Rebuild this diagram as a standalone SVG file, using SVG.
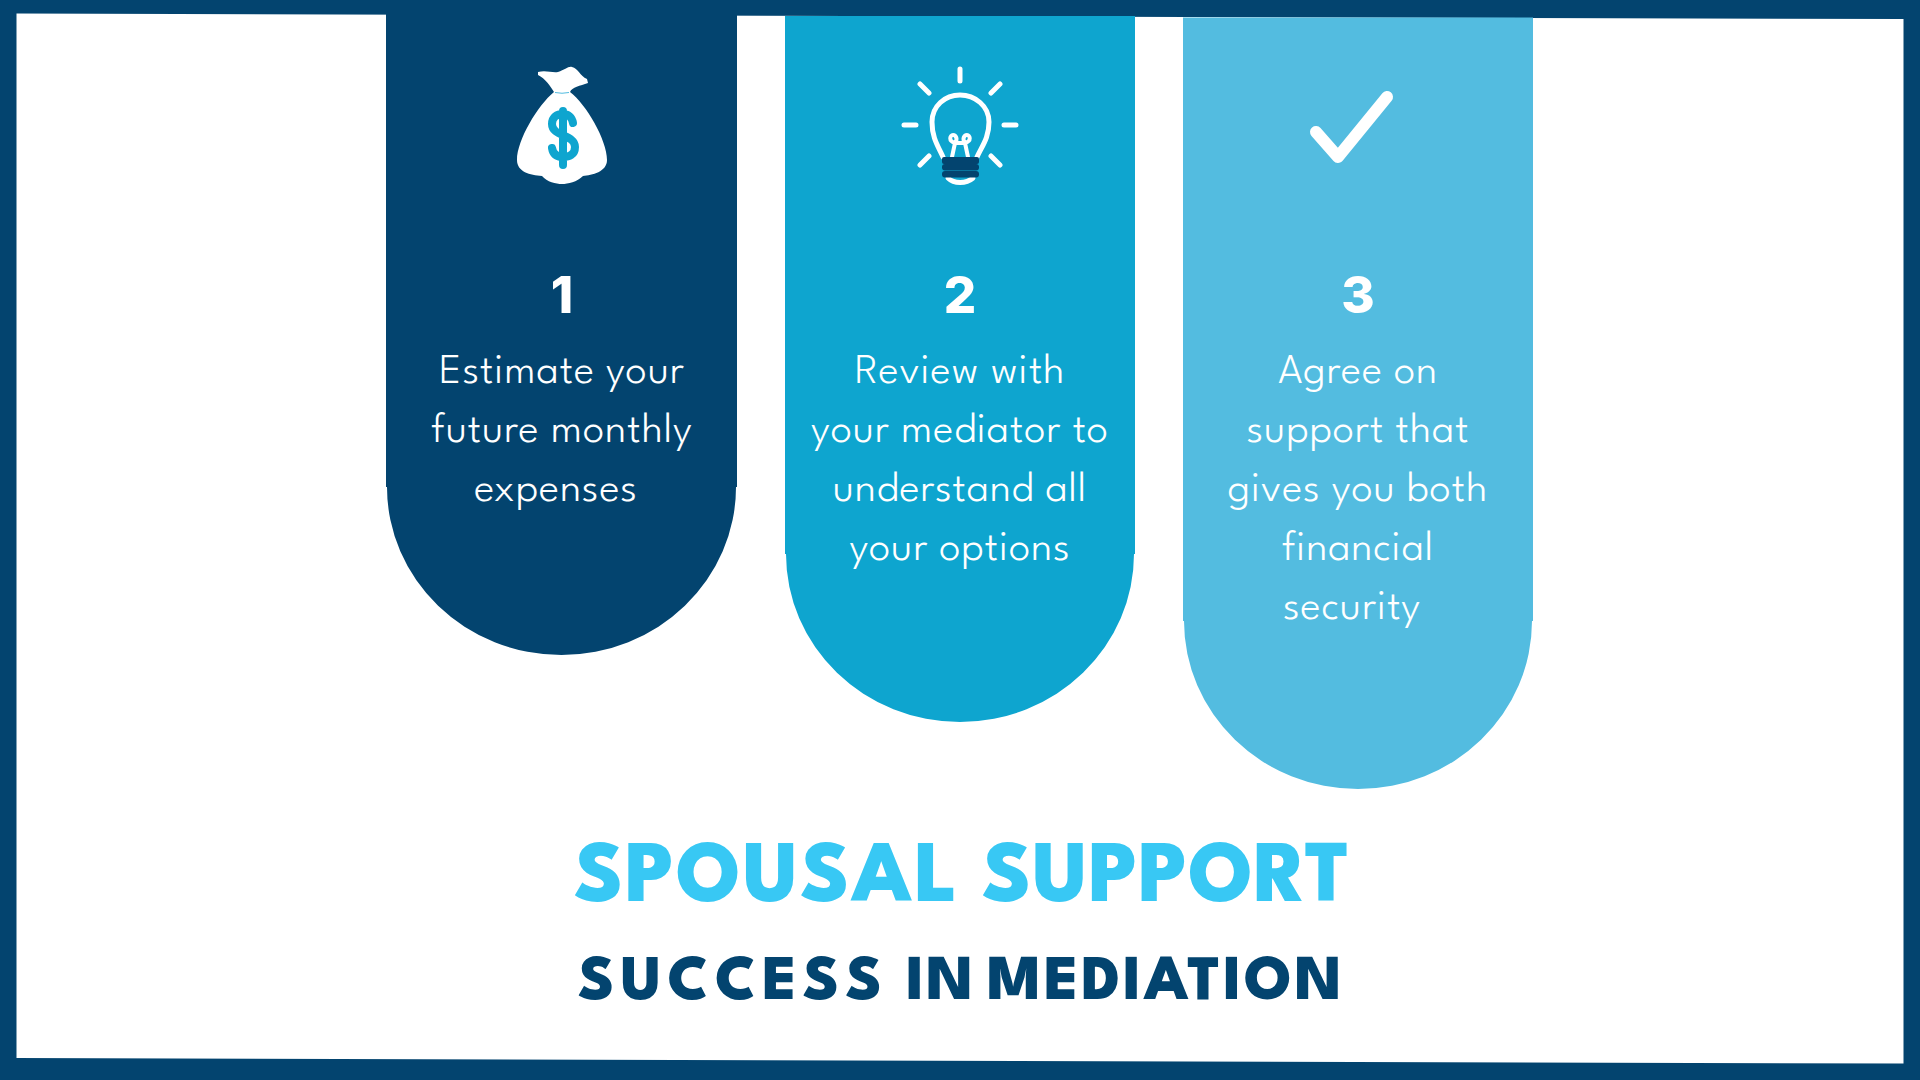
<svg xmlns="http://www.w3.org/2000/svg" width="1920" height="1080" viewBox="0 0 1920 1080">
<style>
.b{font-family:"League Spartan","Jost","Lato","Liberation Sans",sans-serif;font-size:43px;font-weight:340;fill:#fff;text-anchor:middle;letter-spacing:.8px}
.n{font-family:"Inter","Liberation Sans",sans-serif;font-size:51px;font-weight:800;fill:#fff;text-anchor:middle}
.t{font-family:"League Spartan","Poppins","Inter","Liberation Sans",sans-serif;font-weight:760}
.t1{font-size:87px;fill:#38c8f4}
.t2{font-size:64px;fill:#03446f}
.w{fill:none;stroke:#fff;stroke-linecap:round;stroke-width:5;stroke-linejoin:round}
</style>
<rect width="1920" height="1080" fill="#03446f"/>
<polygon points="16.5,13.5 1903.5,19 1903.5,1063.5 16.5,1058" fill="#fff"/>
<g id="node-1">
<path d="M386,14H737V487H736A174.500,168 0 0 1 387,487H386Z" fill="#03446f"/>
<g id="icon-money">
<path d="M538,72C546,70 552,73 558,72C565,70 568,66 572,67C578,68 580,76 587,79L588,83C580,86 572,87 570,92C586,104 607,140 607,160C607,172 592,175 583,176C577,182 568,184 562,184C556,184 547,182 542,176C530,175 517,172 517,160C517,140 538,105 554,92C551,87 545,78 538,75Z" fill="#fff"/>
<path d="M555,92.500Q562,94 569,92.500" fill="none" stroke="#53bce0" stroke-width="1"/>
<path d="M573,123C572,117 568,114 563,114C557,114 552,117 552,124C552,137 575,134 575,147C575,155 569,157 563,157C557,157 553,154 552,148M563,111V165" fill="none" stroke="#0ea5cf" stroke-width="8" stroke-linecap="round"/>
</g>
<text class="n" x="562" y="313">1</text>
<text class="b" x="562" y="383">Estimate your</text>
<text class="b" x="562" y="442">future monthly</text>
<text class="b" x="556" y="501">expenses</text>
</g>
<g id="node-2">
<path d="M785,16H1135V554H1134A174,168 0 0 1 786,554H785Z" fill="#0ea5cf"/>
<g id="icon-bulb">
<path class="w" d="M960,69V81M920,84L929,93M1000,84L991,93M904,125H916M1004,125H1016M920,165L929,156M1000,165L991,156"/>
<path class="w" d="M943,157C938,146 932,138 932,122C932,106 945,95 960,95C975,95 989,106 989,122C989,138 982,146 977,157"/>
<path class="w" style="stroke-width:4" d="M952,157L955,143C948,141 950,135 953,135C956,135 958,139 955,143H965C962,139 964,135 967,135C970,135 972,141 965,143L968,157"/>
<path class="w" d="M948,178C954,184 966,184 973,178"/>
<rect x="942" y="157" width="37" height="7" rx="2" fill="#03446f"/>
<rect x="942" y="164" width="37" height="6.500" rx="3" fill="#03446f"/>
<rect x="942" y="171" width="37" height="6.500" rx="3" fill="#03446f"/>
</g>
<text class="n" x="960" y="313">2</text>
<text class="b" x="960" y="383">Review with</text>
<text class="b" x="960" y="442">your mediator to</text>
<text class="b" x="960" y="501">understand all</text>
<text class="b" x="960" y="560">your options</text>
</g>
<g id="node-3">
<path d="M1183,17.500H1533V621H1532A174,168 0 0 1 1184,621H1183Z" fill="#53bce0"/>
<path id="icon-check" d="M1316,132L1338,157L1387,97" fill="none" stroke="#fff" stroke-width="12" stroke-linecap="round" stroke-linejoin="round"/>
<text class="n" x="1358" y="313">3</text>
<text class="b" x="1358" y="383">Agree on</text>
<text class="b" x="1358" y="442">support that</text>
<text class="b" x="1358" y="501">gives you both</text>
<text class="b" x="1358" y="560">financial</text>
<text class="b" x="1352" y="619">security</text>
</g>
<text class="t t1" x="574" y="901" textLength="384">SPOUSAL</text>
<text class="t t1" x="982" y="901" textLength="368">SUPPORT</text>
<text class="t t2" x="578" y="999" textLength="304">SUCCESS</text>
<text class="t t2" x="906" y="999" letter-spacing="2">IN</text>
<text class="t t2" x="987" y="999" textLength="355">MEDIATION</text>
</svg>
